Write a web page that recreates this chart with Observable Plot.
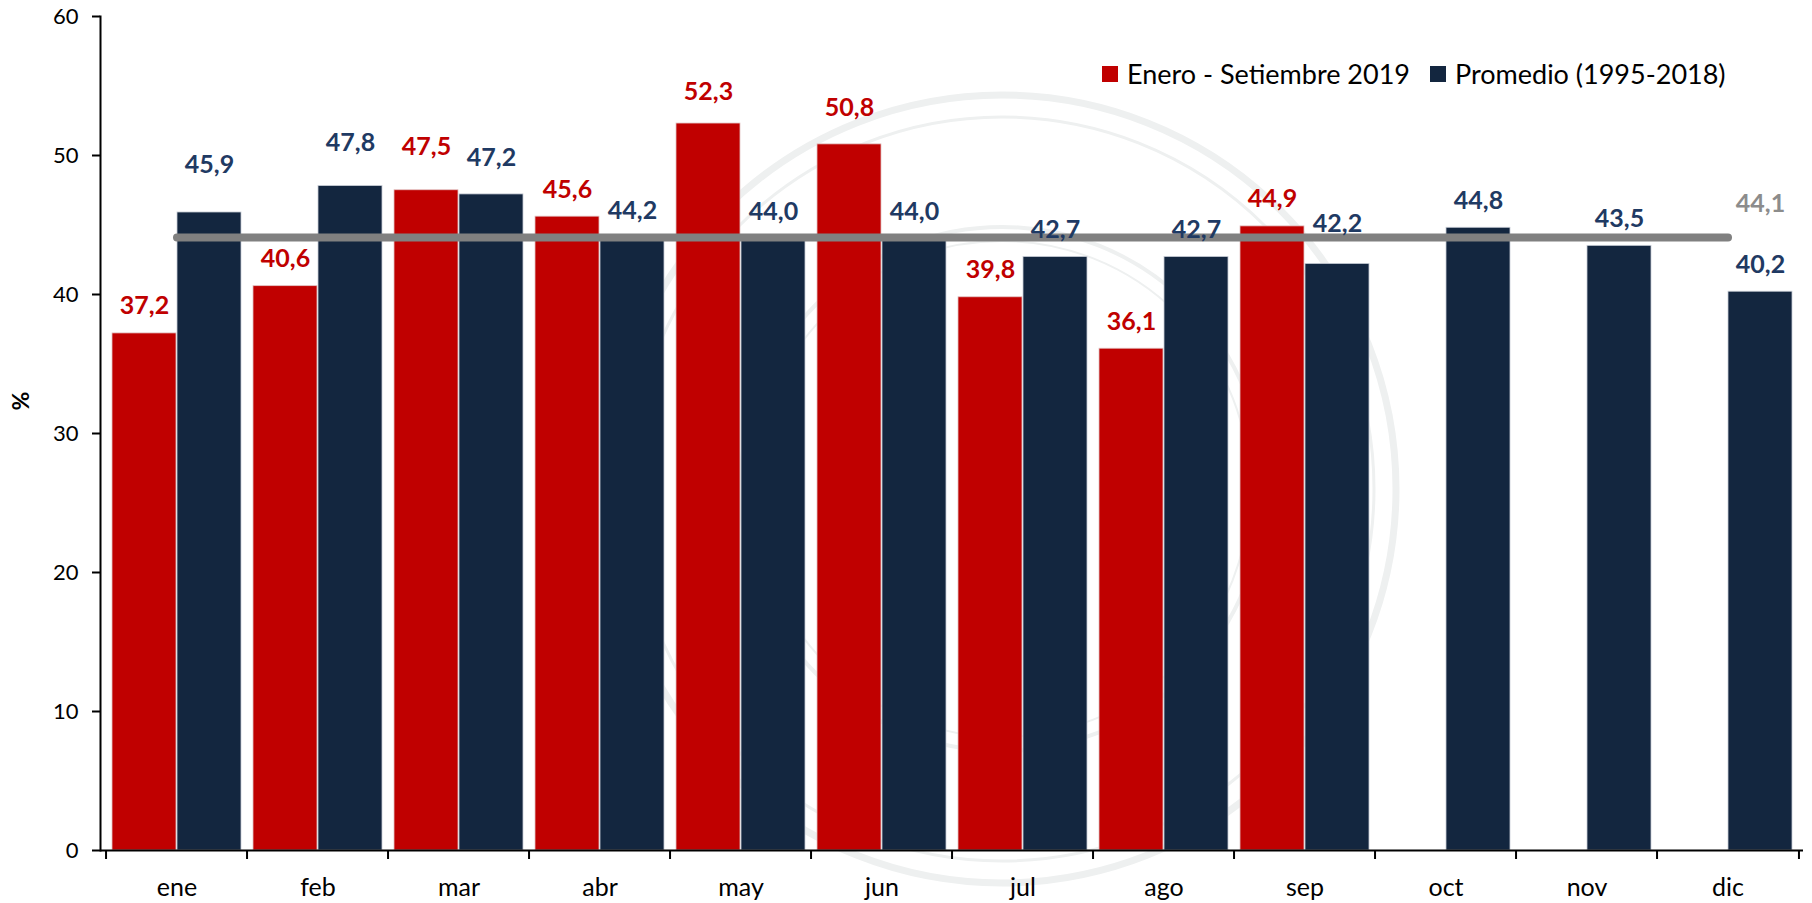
<!DOCTYPE html>
<html>
<head>
<meta charset="utf-8">
<script src="https://cdn.jsdelivr.net/npm/d3@7"></script>
<script src="https://cdn.jsdelivr.net/npm/@observablehq/plot@0.6"></script>
<style>
  html, body { margin: 0; padding: 0; background: #fff; }
  #wrap { position: relative; width: 1812px; height: 903px; font-family: Lato, "Open Sans", sans-serif; }
  #wm { position: absolute; left: 0; top: 0; }
  #chart { position: absolute; left: 0; top: 0; }
  #legend { position: absolute; left: 1102px; top: 57px; display: flex; align-items: center; font-size: 27px; color: #000; white-space: nowrap; }
  #legend .sw { width: 16px; height: 16px; display: inline-block; margin-right: 9px; }
  #legend .item { display: flex; align-items: center; margin-right: 20px; }
</style>
</head>
<body>
<div id="wrap">
  <svg id="wm" width="1812" height="903">
    <g fill="none" stroke="#eef0f0">
      <circle cx="1002" cy="489" r="394" stroke-width="7"/>
      <circle cx="1002" cy="489" r="372" stroke-width="3"/>
      <circle cx="1002" cy="489" r="262" stroke-width="4"/>
      <circle cx="1002" cy="489" r="248" stroke-width="2"/>
    </g>
  </svg>
  <div id="chart"></div>
  <div id="legend"></div>
</div>
<script>
// ---- data ----
const months = ["ene", "feb", "mar", "abr", "may", "jun", "jul", "ago", "sep", "oct", "nov", "dic"];
const serie2019 = [37.2, 40.6, 47.5, 45.6, 52.3, 50.8, 39.8, 36.1, 44.9, null, null, null];
const promedio = [45.9, 47.8, 47.2, 44.2, 44.0, 44.0, 42.7, 42.7, 42.2, 44.8, 43.5, 40.2];
const promedioGeneral = 44.1;
const seriesNames = ["Enero - Setiembre 2019", "Promedio (1995-2018)"];
const yTicks = [0, 10, 20, 30, 40, 50, 60];
// extra lift of individual value labels (in % units), as placed in the original
const liftRed = [0, 0, 1.15, 0, 0.35, 0.7, 0, 0, 0, 0, 0, 0];
const liftNavy = [1.5, 1.15, 0.7, -0.15, 0, 0, 0, 0, 0.95, 0, 0, 0];
const liftGeneral = 0.45;

const RED = "#C00000", NAVY = "#13263F", NAVY_TXT = "#1F3A63", GRAY = "#808080";
const W = 1812, H = 903, ML = 100, MR = 9, MT = 16, MB = 53;
const bw = (W - ML - MR) / months.length;
const fmt = v => d3.format(".1f")(v).replace(".", ",");

const redRows = months.map((m, i) => ({month: m, value: serie2019[i], lift: liftRed[i]})).filter(d => d.value != null);
const navyRows = months.map((m, i) => ({month: m, value: promedio[i], lift: liftNavy[i]}));

const chart = Plot.plot({
  width: W, height: H,
  marginLeft: ML, marginRight: MR, marginTop: MT, marginBottom: MB,
  style: {fontFamily: "Lato, 'Open Sans', sans-serif", color: "#000", background: "transparent"},
  x: {type: "band", domain: months, padding: 0, axis: null},
  y: {domain: [0, 60], axis: null},
  marks: [
    Plot.barY(redRows, {x: "month", y: "value", fill: RED, insetLeft: 6, insetRight: 71, stroke: "#e2c4c4", strokeWidth: 0.8}),
    Plot.barY(navyRows, {x: "month", y: "value", fill: NAVY, insetLeft: 71, insetRight: 6, stroke: "#c9ced6", strokeWidth: 0.8}),
    Plot.lineY(months, {x: d => d, y: () => promedioGeneral, stroke: GRAY, strokeWidth: 8, strokeLinecap: "round"}),
    Plot.text(redRows, {x: "month", y: d => d.value + d.lift, text: d => fmt(d.value), dx: -32.5, dy: -19, lineAnchor: "bottom", fill: RED, fontSize: 25, fontWeight: 700}),
    Plot.text(navyRows, {x: "month", y: d => d.value + d.lift, text: d => fmt(d.value), dx: 32.5, dy: -19, lineAnchor: "bottom", fill: NAVY_TXT, fontSize: 25, fontWeight: 700}),
    Plot.text([promedioGeneral], {x: () => months[months.length - 1], y: d => d + liftGeneral, text: d => fmt(d), dx: 32.5, dy: -19, lineAnchor: "bottom", fill: "#8c8c8c", fontSize: 25, fontWeight: 700}),
    Plot.axisY({ticks: yTicks, tickSize: 8, tickPadding: 14, fontSize: 22, label: null, strokeWidth: 2}),
    Plot.frame({anchor: "left", strokeWidth: 2}),
    Plot.ruleY([0], {strokeWidth: 2}),
    Plot.axisX({tickSize: 0, tickPadding: 28, fontSize: 25, label: null}),
    Plot.axisX(months, {tickSize: 9, tickFormat: () => "", dx: -bw / 2, strokeWidth: 2, label: null}),
    Plot.axisX([months[months.length - 1]], {tickSize: 9, tickFormat: () => "", dx: bw / 2, strokeWidth: 2, label: null}),
    Plot.text(["%"], {frameAnchor: "left", dx: -79, dy: -23, rotate: -90, fontSize: 23, fontWeight: 700})
  ]
});
document.getElementById("chart").appendChild(chart);

const legend = document.getElementById("legend");
[[seriesNames[0], RED], [seriesNames[1], NAVY]].forEach(([name, c]) => {
  const it = document.createElement("span");
  it.className = "item";
  const sw = document.createElement("span");
  sw.className = "sw"; sw.style.background = c;
  it.appendChild(sw);
  it.appendChild(document.createTextNode(name));
  legend.appendChild(it);
});
</script>
</body>
</html>
